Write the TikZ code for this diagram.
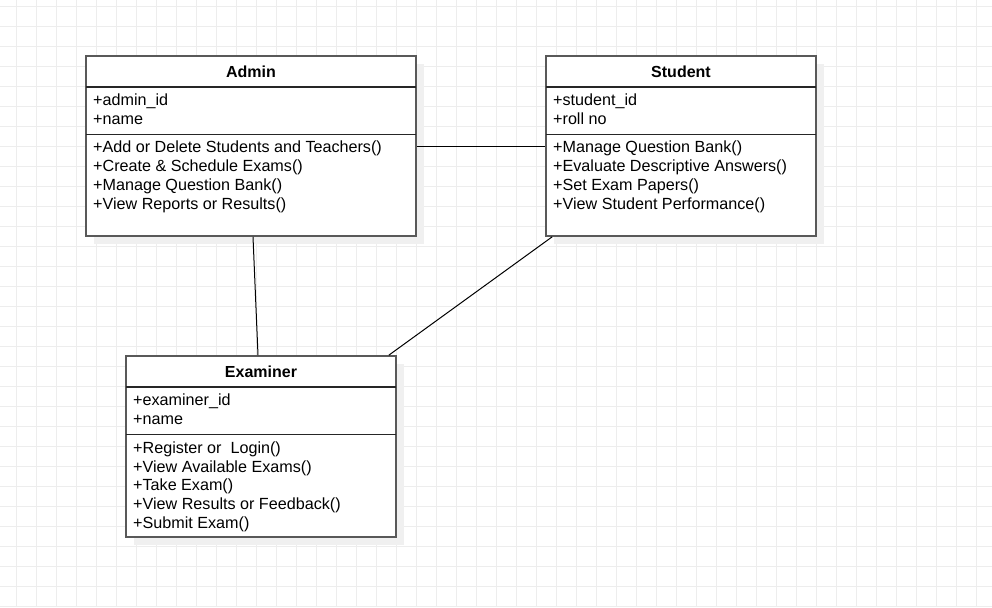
\documentclass[tikz,border=0pt]{standalone}
\usepackage{fontspec}
\setmainfont{Liberation Sans}
\usetikzlibrary{shadows}

\begin{document}
\begin{tikzpicture}[
    x=1pt, y=-1pt,
    classbox/.style={rectangle, draw=black!65, line width=1.6pt, fill=white, drop shadow={shadow xshift=8pt, shadow yshift=-8pt, fill=black!6, opacity=1}},
    classtitle/.style={font=\bfseries\fontsize{16}{19}\selectfont},
    classtext/.style={anchor=north west, inner sep=0pt, align=left, font=\fontsize{16.15}{18.7}\selectfont},
    sepline/.style={line width=1.1pt, black!85},
    assoc/.style={line width=1pt, black},
    gridline/.style={line width=0.8pt, black!7},
]
\useasboundingbox[fill=white] (0,0) rectangle (992,607);

% background grid
\foreach \gx in {16.7,36.7,...,992} \draw[gridline] (\gx,0) -- (\gx,607);
\foreach \gy in {6.7,26.7,...,607} \draw[gridline] (0,\gy) -- (992,\gy);

\node[classbox, minimum width=330pt, minimum height=180pt] (admin)    at (251,146)   {};
\node[classbox, minimum width=270pt, minimum height=180pt] (student)  at (681,146)   {};
\node[classbox, minimum width=270pt, minimum height=181pt] (examiner) at (261,446.5) {};

\node[classtitle] (admin_t)    at (251,71.5)  {Admin};
\node[classtitle] (student_t)  at (681,71.5)  {Student};
\node[classtitle] (examiner_t) at (261,371.5) {Examiner};

\draw[sepline] (86,87) -- (416,87);
\draw[sepline] (86,134.5) -- (416,134.5);
\draw[sepline] (546,87) -- (816,87);
\draw[sepline] (546,134.5) -- (816,134.5);
\draw[sepline] (126,387) -- (396,387);
\draw[sepline] (126,434.5) -- (396,434.5);

\node[classtext] (admin_attr) at (93,93.5) {+admin\_id\\+name};
\node[classtext] (admin_ops)  at (93,141) {+Add or Delete Students and Teachers()\\+Create \& Schedule Exams()\\+Manage Question Bank()\\+View Reports or Results()};

\node[classtext] (student_attr) at (553,93.5) {+student\_id\\+roll no};
\node[classtext] (student_ops)  at (553,141) {+Manage Question Bank()\\+Evaluate Descriptive Answers()\\+Set Exam Papers()\\+View Student Performance()};

\node[classtext] (examiner_attr) at (133,393.5) {+examiner\_id\\+name};
\node[classtext] (examiner_ops)  at (133,441.5) {+Register or\ \ Login()\\+View Available Exams()\\+Take Exam()\\+View Results or Feedback()\\+Submit Exam()};

\draw[assoc] (admin.east) -- (student.west);
\draw[assoc] ([xshift=2pt]admin.south) -- ([xshift=-3pt]examiner.north);
\draw[assoc] ([xshift=7pt]student.south west) -- ([xshift=-8pt]examiner.north east);
\end{tikzpicture}
\end{document}
